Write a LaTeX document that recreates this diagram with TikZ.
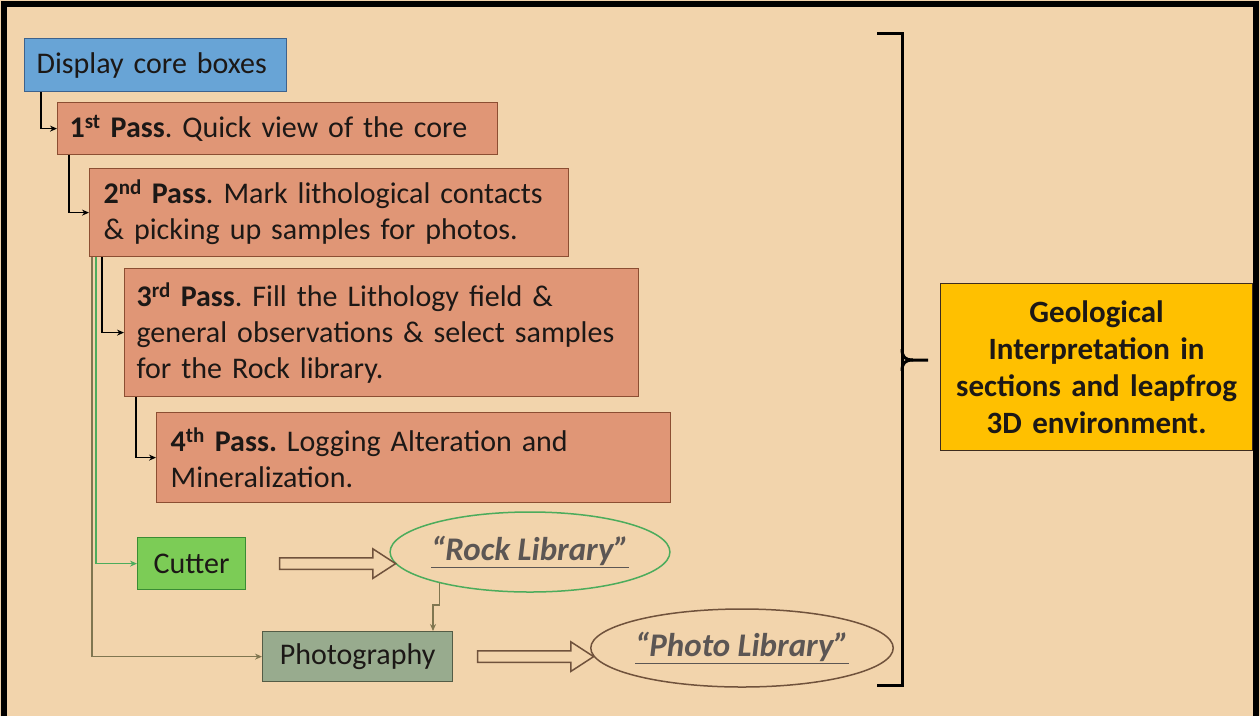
\documentclass[tikz,border=0pt]{standalone}
\usepackage{fontspec}
\setmainfont{Carlito}
\usetikzlibrary{calc,arrows.meta,shapes.geometric,shapes.arrows}
\frenchspacing
\hyphenpenalty=10000
\exhyphenpenalty=10000

\definecolor{bgpeach}{RGB}{242,212,172}
\definecolor{txtdark}{RGB}{28,24,22}
\definecolor{coreblue}{RGB}{104,164,214}
\definecolor{coreline}{RGB}{62,98,140}
\definecolor{salmon}{RGB}{224,150,118}
\definecolor{salmonline}{RGB}{140,78,50}
\definecolor{cutgreen}{RGB}{124,204,86}
\definecolor{cutline}{RGB}{58,140,52}
\definecolor{photogrey}{RGB}{152,171,142}
\definecolor{photoline}{RGB}{84,92,70}
\definecolor{geoyellow}{RGB}{255,192,0}
\definecolor{geoline}{RGB}{62,44,30}
\definecolor{lnkgreen}{RGB}{76,172,92}
\definecolor{lnkolive}{RGB}{128,118,80}
\definecolor{libtext}{RGB}{92,86,84}
\definecolor{arrbrown}{RGB}{112,82,60}

\tikzset{
  box/.style={draw, line width=1.2pt, anchor=north west, align=left, inner xsep=12pt, inner ysep=0pt, text=txtdark, font=\fontsize{30}{36}\selectfont},
  passbox/.style={box, fill=salmon, draw=salmonline},
  libellipse/.style={ellipse, line width=1.5pt, inner sep=0pt, text=libtext, font=\fontsize{33}{38}\selectfont\bfseries\itshape},
  hollow/.style={single arrow, draw=arrbrown, fill=bgpeach, line width=1.5pt, minimum height=116pt, inner xsep=0pt, inner ysep=5pt, single arrow head extend=9pt, single arrow tip angle=66},
  blk/.style={line width=1.4pt, -{Stealth[length=7pt,width=6pt]}},
  grn/.style={blk, draw=lnkgreen, -{Stealth[length=7pt,width=6pt,color=lnkgreen]}},
  olv/.style={blk, draw=lnkolive, -{Stealth[length=7pt,width=6pt,color=lnkolive]}},
  brace/.style={line width=3pt, line join=miter}
}

\begin{document}
\begin{tikzpicture}[x=1pt,y=1pt,yscale=-1]
\useasboundingbox (0,0) rectangle (1260,716);
\fill[bgpeach] (0,0) rectangle (1260,716);
\draw[line width=6pt] (4,716) -- (4,4) -- (1256,4) -- (1256,716);

% Boxes
\node[box, fill=coreblue, draw=coreline, minimum width=262pt, minimum height=53pt, text width=238pt] (core) at (24,38) {Display core boxes};
\node[passbox, minimum width=440pt, minimum height=52pt, text width=416pt] (pass1) at (57,102) {\textbf{1\textsuperscript{st} Pass}. Quick view of the core};
\node[passbox, inner xsep=14pt, minimum width=479pt, minimum height=88pt, text width=451pt] (pass2) at (89,168) {\textbf{2\textsuperscript{nd} Pass}. Mark lithological contacts\\ \& picking up samples for photos.};
\node[passbox, minimum width=514pt, minimum height=128pt, text width=490pt] (pass3) at (124,268) {\textbf{3\textsuperscript{rd} Pass}. Fill the Lithology field \&\\ general observations \& select samples\\ for the Rock library.};
\node[passbox, inner xsep=14pt, minimum width=514pt, minimum height=90pt, text width=486pt] (pass4) at (156,412) {\textbf{4\textsuperscript{th} Pass.} Logging Alteration and\\ Mineralization.};
\node[box, fill=cutgreen, draw=cutline, align=center, minimum width=108pt, minimum height=52pt, text width=84pt] (cutter) at (137,537) {Cutter};
\node[box, fill=photogrey, draw=photoline, align=center, minimum width=190pt, minimum height=50pt, text width=166pt] (photo) at (262,631) {Photography};
\node[box, fill=geoyellow, draw=geoline, align=center, inner xsep=8pt, minimum width=312pt, minimum height=167pt, text width=296pt, font=\fontsize{31}{37}\selectfont\bfseries] (interp) at (940,283) {Geological\\ Interpretation in\\ sections and leapfrog\\ 3D environment.};

% Libraries
\node[libellipse, draw=lnkgreen, minimum width=240pt, minimum height=80pt] (rock) at (530,552) {\underline{“Rock Library”}};
\node[libellipse, draw=arrbrown, minimum width=272pt, minimum height=78pt] (photolib) at (742,648) {\underline{“Photo Library”}};

% Hollow arrows
\node[hollow] (arr1) at ($(cutter.east)+(87,0)$) {};
\node[hollow] (arr2) at ($(photo.east)+(78,0)$) {};

% Connectors
\draw[blk] ($(core.south west)+(17,0)$) |- (pass1.west);
\draw[blk] ($(pass1.south west)+(12,0)$) |- (pass2.west);
\draw[blk] ($(pass2.south west)+(13,0)$) |- (pass3.west);
\draw[blk] ($(pass3.south west)+(12,0)$) |- (pass4.west);
\draw[grn] ($(pass2.south west)+(7,0)$) |- (cutter.west);
\draw[olv] ($(pass2.south west)+(3,0)$) |- (photo.west);
\draw[olv] (rock.199.5) -- ($(rock.199.5)+(0,22)$) -| ($(photo.north west)+(171,0)$);

% Brace
\coordinate (brtop) at (877,33);
\coordinate (brbot) at (877,685);
\coordinate (brtip) at (928,360);
\draw[brace] (brtop) -- (902,33) -- (902,685) -- (brbot);
\draw[brace] (902,349) .. controls (902,357) and (905,360) .. (913,360) -- (brtip);
\draw[brace] (902,371) .. controls (902,363) and (905,360) .. (913,360);

\end{tikzpicture}
\end{document}
